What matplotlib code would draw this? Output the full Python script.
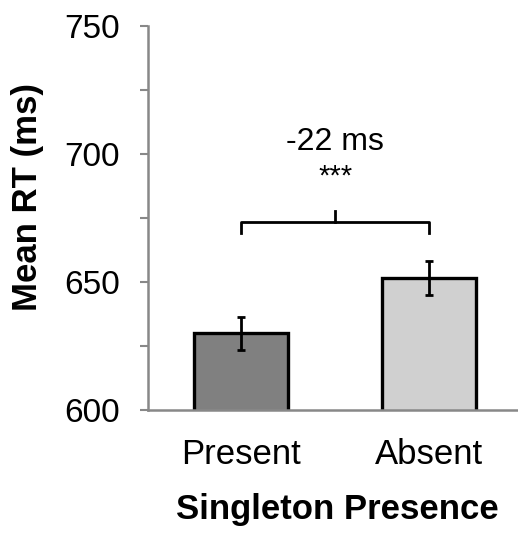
import matplotlib.pyplot as plt
from matplotlib.ticker import MultipleLocator

plt.rcParams['font.family'] = ['Liberation Sans', 'DejaVu Sans']

conditions = ['Present', 'Absent']
mean_rt = [630, 651.5]
rt_err = [6.4, 6.6]
bar_colors = ['#808080', '#d0d0d0']
diff_label = '-22 ms'
sig_label = '***'
bracket_y = 673.3

fig = plt.figure(figsize=(5.18, 5.33), dpi=100)
ax = fig.add_axes([0.2857, 0.2308, 0.7143, 0.7205])

x = list(range(len(conditions)))
ax.bar(x, mean_rt, width=0.5, color=bar_colors, edgecolor='black', linewidth=2.4, zorder=2)
ax.errorbar(x, mean_rt, yerr=rt_err, fmt='none', ecolor='black', elinewidth=2.0,
            capsize=3.0, capthick=2.0, zorder=3)

# bracket between the two bars
ax.plot([x[0], x[0], x[1], x[1]], [bracket_y - 4, bracket_y, bracket_y, bracket_y - 4],
        color='black', lw=2.0, solid_joinstyle='round', zorder=3)
mid = (x[0] + x[1]) / 2
ax.plot([mid, mid], [bracket_y, bracket_y + 4.3], color='black', lw=2.0, zorder=3)
ax.text(mid, 704.5, diff_label, ha='center', va='center', fontsize=23)
ax.text(mid, 691, sig_label, ha='center', va='center', fontsize=21)

ax.set_ylim(600, 750)
ax.set_xlim(-0.495, 1.473)
ax.yaxis.set_major_locator(MultipleLocator(50))
ax.yaxis.set_minor_locator(MultipleLocator(25))
ax.set_xticks(x)
ax.set_xticklabels(conditions, fontsize=25)
ax.tick_params(axis='x', length=0, pad=20)
ax.tick_params(axis='y', which='both', direction='out', length=6, width=1.5,
               color='#888888', labelsize=24, pad=14)

for s in ['top', 'right']:
    ax.spines[s].set_visible(False)
for s in ['left', 'bottom']:
    ax.spines[s].set_color('#888888')
    ax.spines[s].set_linewidth(1.8)

ax.set_ylabel('Mean RT (ms)', fontsize=25, fontweight='bold')
ax.yaxis.set_label_coords(-0.28, 0.555)
ax.set_xlabel('Singleton Presence', fontsize=25, fontweight='bold')
ax.xaxis.set_label_coords(0.513, -0.215)

fig.savefig('out.png', dpi=100)
